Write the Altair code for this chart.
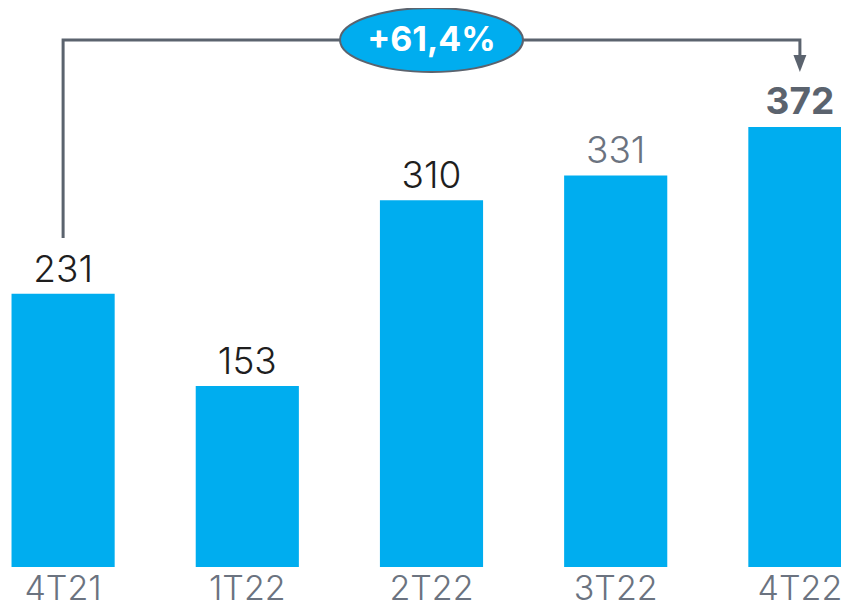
import altair as alt
import pandas as pd

categories = ["4T21", "1T22", "2T22", "3T22", "4T22"]
values = [231, 153, 310, 331, 372]
growth_label = "+61,4%"

BLUE = "#00ADEF"
GRAY = "#5B636E"
FONT = "Inter"

df = pd.DataFrame({"cat": categories, "value": values})

x = alt.X("cat:N", sort=categories, title=None,
          scale=alt.Scale(range=[-37, 884], paddingInner=0.44, paddingOuter=0.22),
          axis=alt.Axis(labelFontSize=34, labelFont=FONT, labelFontWeight=300,
                        labelColor="#6B7380", ticks=False, domain=False,
                        labelPadding=5, labelAngle=0))
y = alt.Y("value:Q", scale=alt.Scale(domain=[0, 472.5], nice=False, zero=True),
          axis=None)

base = alt.Chart(df).encode(x=x, y=y)

bars = base.mark_bar(color=BLUE)

lab_dark = base.transform_filter(alt.FieldOneOfPredicate(field="cat", oneOf=categories[:3])).mark_text(
    font=FONT, fontSize=37, fontWeight=300, color="#1E1E1E", baseline="alphabetic", dy=-12
).encode(text="value:Q")
lab_gray = base.transform_filter(alt.FieldEqualPredicate(field="cat", equal=categories[3])).mark_text(
    font=FONT, fontSize=37, fontWeight=300, color="#6B7380", baseline="alphabetic", dy=-12
).encode(text="value:Q")
lab_bold = base.transform_filter(alt.FieldEqualPredicate(field="cat", equal=categories[4])).mark_text(
    font=FONT, fontSize=37, fontWeight="bold", color=GRAY, baseline="alphabetic", dy=-13
).encode(text="value:Q")

level = 445.5
bracket_df = pd.DataFrame({
    "cat": [categories[0], categories[0], categories[4], categories[4]],
    "value": [278, level, level, 432],
    "order": [0, 1, 2, 3],
})
bracket = alt.Chart(bracket_df).mark_line(color=GRAY, strokeWidth=3).encode(
    x=alt.X("cat:N", sort=categories), y="value:Q", order="order:Q")

arrow = alt.Chart(pd.DataFrame({"cat": [categories[4]], "value": [425.5]})).mark_point(
    shape="M-0.76,-1L0.76,-1L0,1Z", size=289, filled=True, color=GRAY, opacity=1
).encode(x=alt.X("cat:N", sort=categories), y="value:Q")

ell_df = pd.DataFrame({"cat": [categories[2]], "value": [level], "txt": [growth_label]})
ellipse = alt.Chart(ell_df).mark_point(
    shape="M-1,0A1,0.35 0 1,1 1,0A1,0.35 0 1,1 -1,0Z", size=183 * 183,
    filled=True, fill=BLUE, stroke=GRAY, strokeWidth=2, opacity=1, fillOpacity=1
).encode(x=alt.X("cat:N", sort=categories), y="value:Q")
ell_text = alt.Chart(ell_df).mark_text(
    font=FONT, fontSize=34, fontWeight="bold", color="white", baseline="middle", dy=1
).encode(x=alt.X("cat:N", sort=categories), y="value:Q", text="txt:N")

chart = alt.layer(bars, lab_dark, lab_gray, lab_bold, bracket, arrow, ellipse, ell_text).properties(
    width=833, height=559,
    padding={"left": 0, "top": 0, "right": 0, "bottom": 40},
    autosize=alt.AutoSizeParams(type="none"),
).configure_view(stroke=None).configure_axis(grid=False)

chart.save("out.html", embed_options={"renderer": "svg", "actions": False})
